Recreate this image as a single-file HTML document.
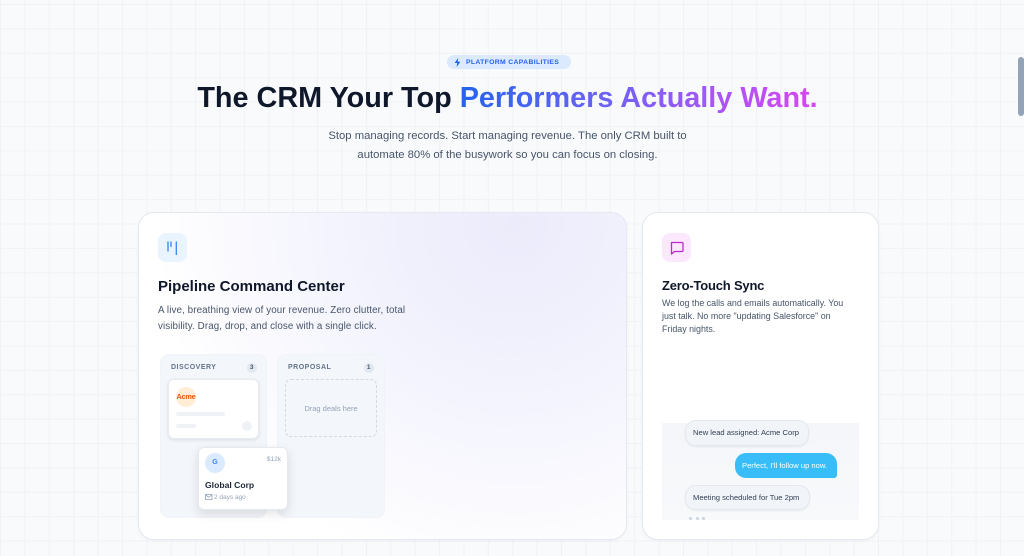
<!DOCTYPE html>
<html><head><meta charset="utf-8">
<style>
*{margin:0;padding:0;box-sizing:border-box}
html,body{width:1024px;height:556px;overflow:hidden}
body{position:relative;font-family:"Liberation Sans",sans-serif;background-color:#f8fafc;
background-image:linear-gradient(to right,#f0f2f6 1px,transparent 1px),linear-gradient(to bottom,#f0f2f6 1px,transparent 1px);
background-size:24.4px 24.4px;background-position:0 4px;}
.a{position:absolute;white-space:nowrap}
.card{position:absolute;border:1px solid #e5e9f0;border-radius:16px;box-shadow:0 1px 3px rgba(15,23,42,.04)}
.col{position:absolute;background:#f3f6fa;border:1px solid #f0f3f7;border-radius:9px}
.lbl{position:absolute;font-size:7px;font-weight:bold;letter-spacing:.5px;color:#64748b;line-height:10px}
.badge{position:absolute;width:10px;height:10px;border-radius:50%;background:#e2e8f0;color:#475569;font-size:6.5px;font-weight:bold;text-align:center;line-height:10px}
.bub{position:absolute;border-radius:11px;font-size:7.6px;line-height:25px;white-space:nowrap}
.in{background:#f1f4f8;border:1px solid #e4e8ee;color:#334155;box-shadow:0 1px 2px rgba(15,23,42,.06);padding-left:7px}
</style></head>
<body>
<!-- pill -->
<div class="a" style="left:447px;top:55px;width:124px;height:14px;border-radius:7px;background:#dbeafe;"></div>
<svg class="a" style="left:454px;top:57.5px" width="7" height="9" viewBox="0 0 7 9"><polygon points="4.2,0 0.6,5 3.2,5 2.6,9 6.4,3.8 3.8,3.8" fill="#2563eb"/></svg>
<div class="a" style="left:466px;top:57.5px;font-size:6.8px;font-weight:bold;letter-spacing:.35px;color:#2563eb;line-height:10px">PLATFORM CAPABILITIES</div>

<!-- heading -->
<div class="a" style="left:0;width:1015px;top:84px;text-align:center;font-size:28.8px;font-weight:bold;line-height:28.8px;color:#0f172a">The CRM Your Top <span style="background:linear-gradient(90deg,#2563eb 0%,#6d63f3 40%,#a855f7 72%,#d946ef 100%);-webkit-background-clip:text;background-clip:text;color:transparent">Performers Actually Want.</span></div>

<div class="a" style="left:0;width:1015px;top:126.5px;text-align:center;font-size:11.3px;line-height:19px;color:#475569;white-space:normal">Stop managing records. Start managing revenue. The only CRM built to<br>automate 80% of the busywork so you can focus on closing.</div>

<!-- left card -->
<div class="card" style="left:138px;top:212px;width:489px;height:328px;background:radial-gradient(circle 360px at 375px 10px,#ebebfb 0%,#f1f1fd 35%,#f8f8fe 70%,#ffffff 100%)"></div>
<div class="a" style="left:158px;top:233px;width:29px;height:29px;border-radius:8px;background:#eaf4ff"></div>
<svg class="a" style="left:158px;top:233px" width="29" height="29"><g stroke="#3b82f6" stroke-width="1.3" stroke-linecap="round"><line x1="10" y1="9" x2="10" y2="18"/><line x1="13" y1="9" x2="13" y2="13.5"/><line x1="18.3" y1="9" x2="18.3" y2="21.5"/></g></svg>
<div class="a" style="left:158px;top:277.8px;font-size:15px;font-weight:bold;line-height:18px;color:#0f172a">Pipeline Command Center</div>
<div class="a" style="left:158px;top:302.5px;font-size:9.8px;letter-spacing:.1px;line-height:16px;color:#475569">A live, breathing view of your revenue. Zero clutter, total<br>visibility. Drag, drop, and close with a single click.</div>

<!-- kanban -->
<div class="col" style="left:160px;top:354px;width:107px;height:164px"></div>
<div class="col" style="left:277px;top:354px;width:108px;height:164px"></div>
<div class="lbl" style="left:171px;top:363.4px">DISCOVERY</div>
<div class="badge" style="left:246.7px;top:363.3px">3</div>
<div class="lbl" style="left:288px;top:363.4px">PROPOSAL</div>
<div class="badge" style="left:363.7px;top:363.3px">1</div>

<div class="a" style="left:168px;top:379px;width:91px;height:60px;background:#fff;border:1px solid #e8ecf1;border-radius:6px;box-shadow:0 1px 3px rgba(15,23,42,.12)"></div>
<div class="a" style="left:176px;top:386.7px;width:20px;height:20px;border-radius:50%;background:#ffedd5"></div>
<div class="a" style="left:175.5px;top:391.7px;width:21px;text-align:center;font-size:7.3px;font-weight:bold;letter-spacing:-.2px;color:#ea580c;line-height:10px">Acme</div>
<div class="a" style="left:176px;top:411.5px;width:49px;height:4.5px;border-radius:3px;background:#eef2f7"></div>
<div class="a" style="left:176px;top:424px;width:20px;height:3.7px;border-radius:2px;background:#eef2f7"></div>
<div class="a" style="left:241.7px;top:420.7px;width:10px;height:10px;border-radius:50%;background:#eef2f7"></div>

<div class="a" style="left:285px;top:379px;width:92px;height:58px;border:1px dashed #d3dae4;border-radius:6px"></div>
<div class="a" style="left:285px;top:403.5px;width:92px;text-align:center;font-size:7.5px;color:#94a3b8;line-height:10px">Drag deals here</div>

<div class="a" style="left:197.5px;top:446.5px;width:90px;height:63px;background:#fff;border:1px solid #e6eaf0;border-radius:6px;box-shadow:0 4px 10px rgba(15,23,42,.12)"></div>
<div class="a" style="left:205px;top:453.3px;width:20px;height:20px;border-radius:50%;background:#dbeafe;color:#3b82f6;font-size:7px;font-weight:bold;text-align:center;line-height:20px">G</div>
<div class="a" style="left:256px;top:455px;width:25px;text-align:right;font-size:6.5px;color:#94a3b8;line-height:9px">$12k</div>
<div class="a" style="left:205px;top:479.8px;font-size:8.6px;font-weight:bold;color:#1e293b;line-height:11px">Global Corp</div>
<svg class="a" style="left:204.5px;top:494px" width="8" height="6"><rect x="0.5" y="0.5" width="6.5" height="5" fill="none" stroke="#94a3b8" stroke-width=".8"/><polyline points="0.5,0.8 3.75,3.2 7,0.8" fill="none" stroke="#94a3b8" stroke-width=".8"/></svg>
<div class="a" style="left:214px;top:493.2px;font-size:6.5px;color:#94a3b8;line-height:9px">2 days ago</div>

<!-- right card -->
<div class="card" style="left:642px;top:212px;width:237px;height:328px;background:#fff"></div>
<div class="a" style="left:662px;top:233px;width:29px;height:29px;border-radius:8px;background:#fbe8fd"></div>
<svg class="a" style="left:662px;top:233px" width="29" height="29"><path d="M9.5 9.5 H20 a1 1 0 0 1 1 1 V17.5 a1 1 0 0 1 -1 1 H12.5 L9.5 21 Z" fill="none" stroke="#c026d3" stroke-width="1.3" stroke-linejoin="round"/></svg>
<div class="a" style="left:662px;top:278.2px;font-size:13px;font-weight:bold;line-height:16px;color:#0f172a;letter-spacing:-.2px">Zero-Touch Sync</div>
<div class="a" style="left:662px;top:297.2px;font-size:8.9px;line-height:13px;color:#475569">We log the calls and emails automatically. You<br>just talk. No more "updating Salesforce" on<br>Friday nights.</div>

<div class="a" style="left:662px;top:423px;width:197px;height:97px;background:linear-gradient(#f4f6fa,#f7f9fb);overflow:hidden">
  <div style="position:absolute;left:27px;top:94px;width:3.2px;height:3.2px;border-radius:50%;background:#cbd5e1"></div>
  <div style="position:absolute;left:33.5px;top:94px;width:3.2px;height:3.2px;border-radius:50%;background:#cbd5e1"></div>
  <div style="position:absolute;left:40px;top:94px;width:3.2px;height:3.2px;border-radius:50%;background:#cbd5e1"></div>
</div>
<div class="bub in" style="left:685px;top:420px;width:124px;height:26px;line-height:24px">New lead assigned: Acme Corp</div>
<div class="bub" style="left:735px;top:453px;width:102px;height:25px;background:#38bdf8;color:#fff;border-radius:11px 11px 3px 11px;padding-left:7px;line-height:25px">Perfect, I'll follow up now.</div>
<div class="bub in" style="left:685px;top:485px;width:125px;height:25px;line-height:23px">Meeting scheduled for Tue 2pm</div>

<!-- scrollbar -->
<div class="a" style="left:1018px;top:57px;width:6px;height:59px;border-radius:3px;background:#94a3b8"></div>
</body></html>
